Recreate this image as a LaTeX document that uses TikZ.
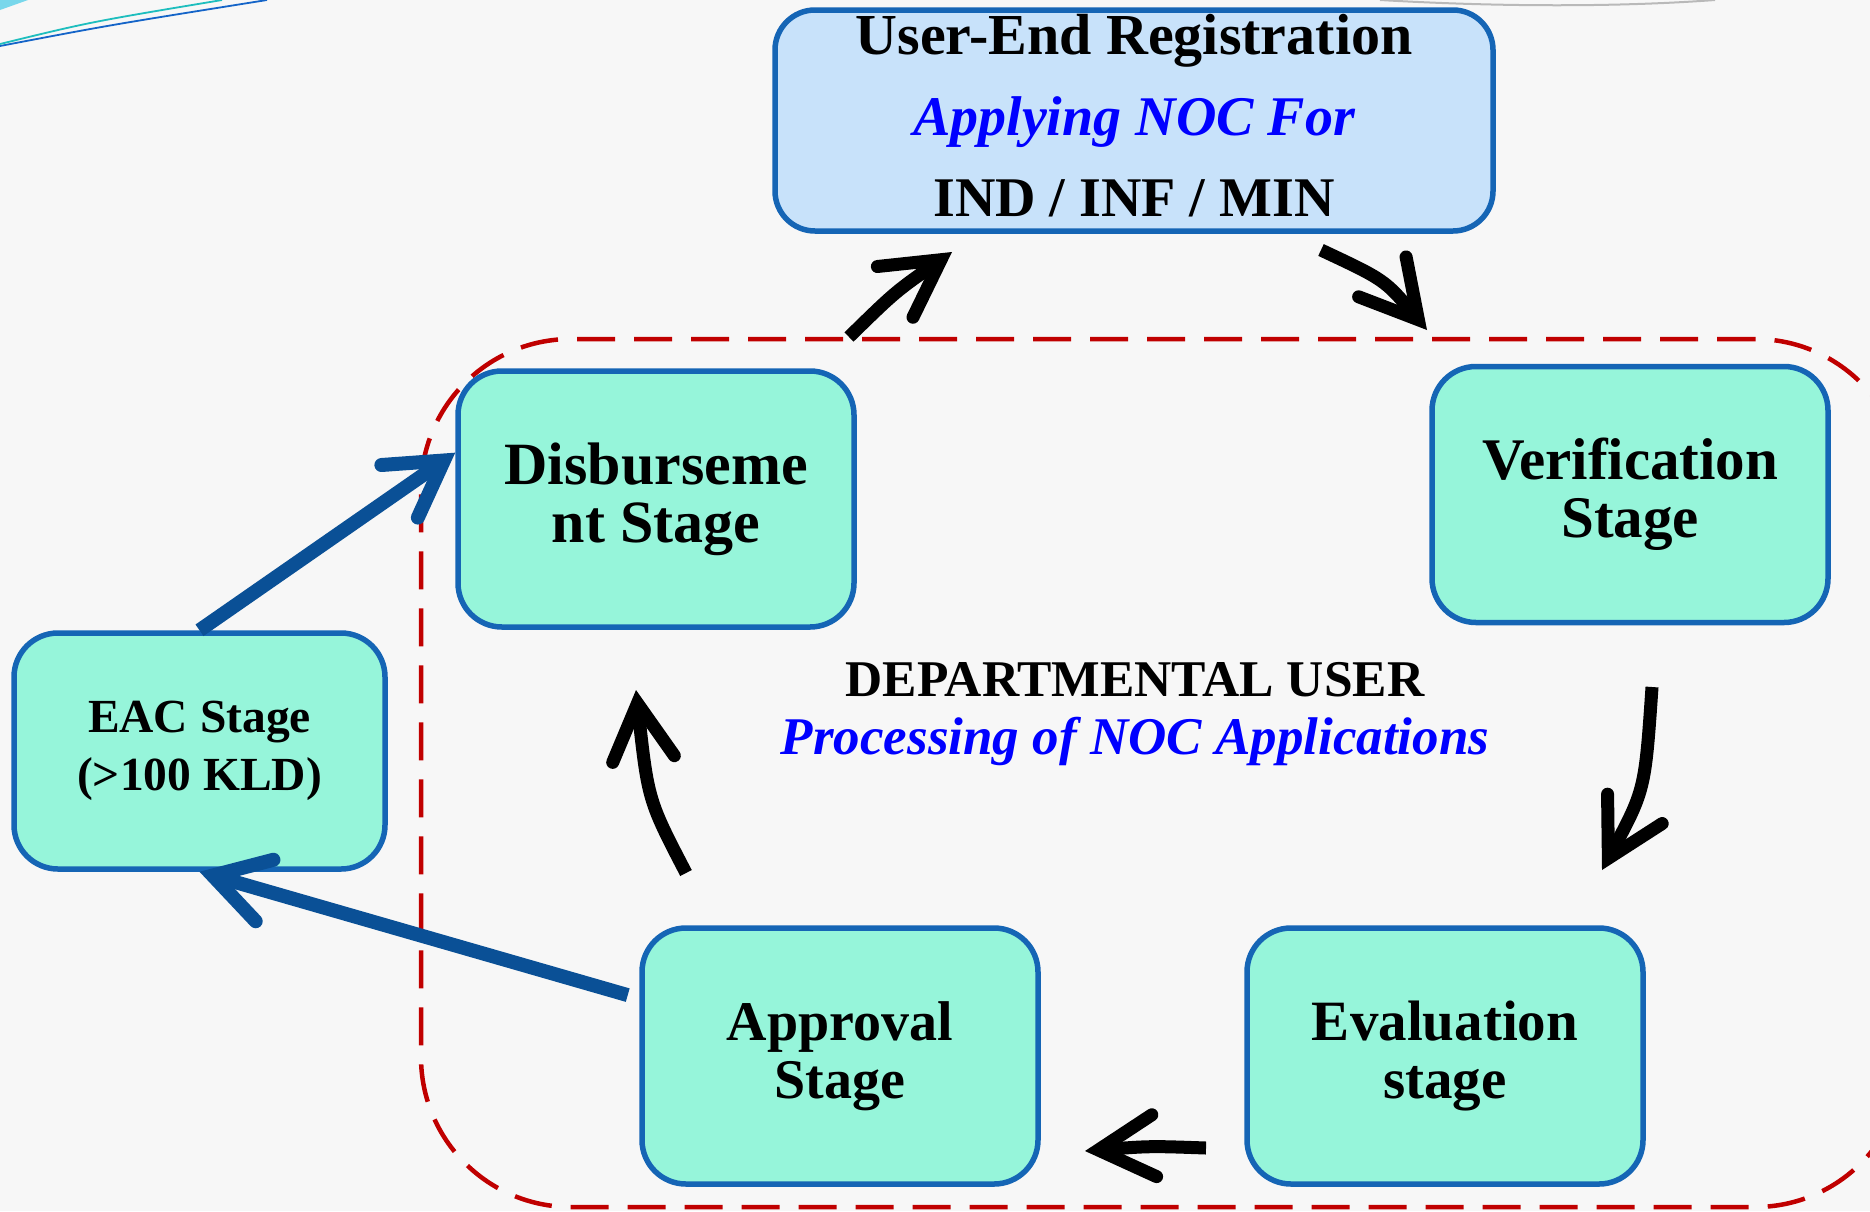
\documentclass[tikz,border=0pt]{standalone}
\usepackage{fontspec}
\setmainfont{Liberation Serif}
\usetikzlibrary{arrows.meta}
\definecolor{bgc}{RGB}{247,247,247}
\definecolor{mint}{RGB}{150,245,218}
\definecolor{boxblue}{RGB}{21,101,181}
\definecolor{topfill}{RGB}{200,226,250}
\definecolor{arrblue}{RGB}{10,80,150}
\definecolor{dashred}{RGB}{192,0,0}
\definecolor{txtblue}{RGB}{0,0,255}
\definecolor{decoteal}{RGB}{30,190,190}
\definecolor{decoblue}{RGB}{20,100,200}
\definecolor{decocyan}{RGB}{120,215,235}
\begin{document}
\begin{tikzpicture}[x=1pt,y=-1pt,
 stagebox/.style={draw=boxblue,line width=5.5pt,fill=mint,rounded corners=44pt,minimum width=396pt,minimum height=256pt,align=center,inner sep=0pt},
 stagefont/.style={font=\fontsize{#1}{58}\selectfont\bfseries},
 topbox/.style={draw=boxblue,line width=5.5pt,fill=topfill,rounded corners=40pt,minimum width=718pt,minimum height=221pt,align=center,inner sep=0pt,font=\fontsize{56}{81}\selectfont\bfseries},
 blkarrow/.style={draw=black,line width=13pt,-{Straight Barb[length=56pt,width=62pt,line cap=round,line join=miter]}},
 bluarrow/.style={draw=arrblue,line width=14pt,-{Straight Barb[length=54pt,width=64pt,line cap=round,line join=miter]}},
 deptframe/.style={draw=dashred,line width=4.5pt,dash pattern=on 38pt off 19pt,rounded corners=150pt,minimum width=1484pt,minimum height=868pt,inner sep=0pt},
]
\useasboundingbox (0,0) rectangle (1870,1211);
\fill[bgc] (0,0) rectangle (1870,1211);
% decorations
\fill[decocyan] (0,0) -- (28,0) -- (0,10) -- cycle;
\draw[decoblue,line width=1.8pt] (0,46) .. controls (110,25) .. (267,0);
\draw[decoteal,line width=1.8pt] (0,44) .. controls (90,22) .. (222,0);
\draw[gray!55,line width=2pt] (1380,0) .. controls (1500,7) and (1620,7) .. (1715,0);
% frame
\node[deptframe] (dept) at (1163,773) {};
% boxes
\node[topbox,text depth=10pt] (reg) at (1134,120.5) {\fontsize{58}{81}\selectfont User-End Registration\\ \fontsize{56}{81}\selectfont\itshape\color{txtblue}Applying NOC For\\ \upshape\color{black}IND / INF / MIN};
\node[stagebox,stagefont=60] (disb) at (656,499) {Disburseme\\nt Stage};
\node[stagebox,stagefont=59] (verif) at (1630,494.5) {Verification\\Stage};
\node[stagebox,minimum width=371pt,minimum height=236pt,stagefont=47.5] (eac) at (199.5,751) {EAC Stage\\(>100 KLD)};
\node[stagebox,stagefont=56] (appr) at (840,1056) {Approval\\Stage};
\node[stagebox,stagefont=57] (eval) at (1445,1056) {Evaluation\\stage};
% center labels
\node[font=\fontsize{51.5}{60}\selectfont\bfseries] (deptlbl) at (1135,680) {DEPARTMENTAL USER};
\node[font=\fontsize{53}{60}\selectfont\bfseries\itshape,text=txtblue] (proclbl) at (1135,741) {Processing of NOC Applications};
% black arrows
\coordinate (a1s) at (849,337); \coordinate (a1e) at (952,252);
\draw[blkarrow] (a1s) .. controls (895,292) .. (a1e);
\coordinate (a2s) at (1321,250); \coordinate (a2e) at (1427,330);
\draw[blkarrow] (a2s) .. controls (1385,280) .. (a2e);
\coordinate (a3s) at (1652,687); \coordinate (a3e) at (1602,870);
\draw[blkarrow] (a3s) .. controls (1645,790) .. (a3e);
\coordinate (a4s) at (1206,1148); \coordinate (a4e) at (1085,1151);
\draw[blkarrow] (a4s) .. controls (1150,1146) .. (a4e);
\coordinate (a5s) at (686,873); \coordinate (a5e) at (636,690);
\draw[blkarrow] (a5s) .. controls (648,800) .. (a5e);
% blue arrows
\draw[bluarrow,shorten <=12pt] (appr.164) -- (eac.south);
\draw[bluarrow] (eac.north) -- (disb.167);
\end{tikzpicture}
\end{document}
